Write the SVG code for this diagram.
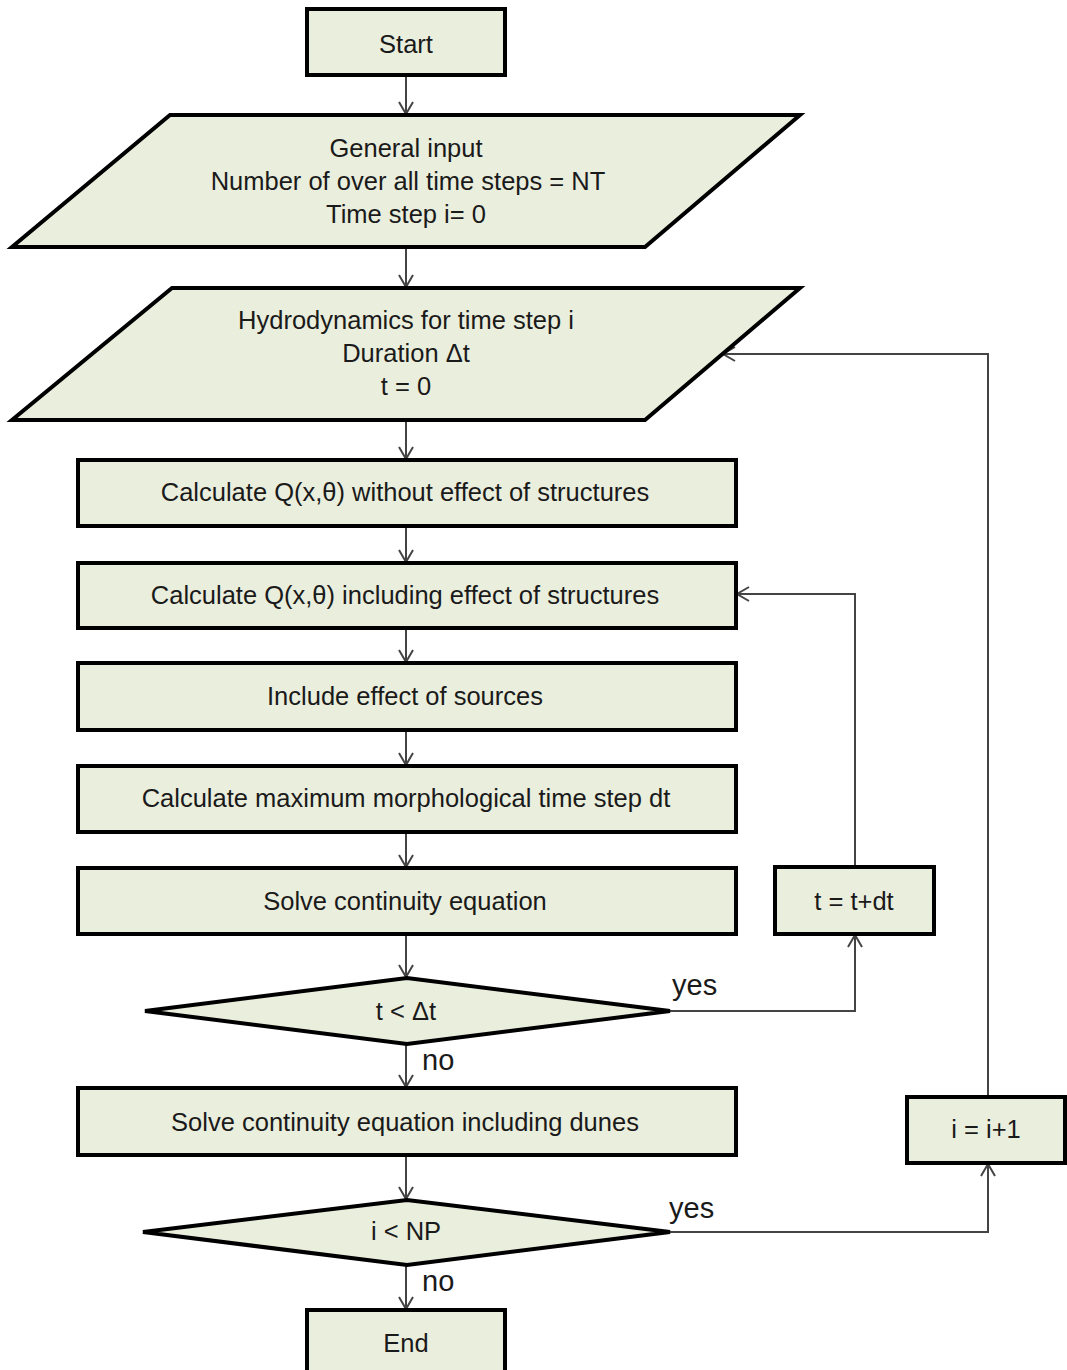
<svg xmlns="http://www.w3.org/2000/svg" width="1067" height="1370" viewBox="0 0 1067 1370">
<style>
.n{fill:#EAEEDD;stroke:#000;stroke-width:4;stroke-linejoin:miter}
.t{font-family:"Liberation Sans",Arial,sans-serif;font-size:25.5px;fill:#1a1a1a;text-anchor:middle}
.l{font-family:"Liberation Sans",Arial,sans-serif;font-size:29px;fill:#1a1a1a}
.c{fill:none;stroke:#444;stroke-width:2}
</style>
<defs>
<marker id="a" markerUnits="userSpaceOnUse" markerWidth="20" markerHeight="20" viewBox="-14 -10 16 20" refX="0" refY="0" orient="auto">
<path d="M-12,-7 L0,0 L-12,7" fill="none" stroke="#444" stroke-width="2"/>
</marker>
</defs>
<g id="connectors">
<path class="c" d="M406,75 V114" marker-end="url(#a)"/>
<path class="c" d="M406,247 V287" marker-end="url(#a)"/>
<path class="c" d="M406,420 V459" marker-end="url(#a)"/>
<path class="c" d="M406,526 V562" marker-end="url(#a)"/>
<path class="c" d="M406,628 V662" marker-end="url(#a)"/>
<path class="c" d="M406,730 V765" marker-end="url(#a)"/>
<path class="c" d="M406,832 V867" marker-end="url(#a)"/>
<path class="c" d="M406,934 V977" marker-end="url(#a)"/>
<path class="c" d="M406,1044 V1087" marker-end="url(#a)"/>
<path class="c" d="M406,1155 V1199" marker-end="url(#a)"/>
<path class="c" d="M406,1265 V1309" marker-end="url(#a)"/>
<path class="c" d="M670,1011 H855 V935" marker-end="url(#a)"/>
<path class="c" d="M855,867 V594 H737" marker-end="url(#a)"/>
<path class="c" d="M670,1232 H988 V1164" marker-end="url(#a)"/>
<path class="c" d="M988,1097 V354 H723" marker-end="url(#a)"/>
<text class="l" x="672" y="995">yes</text>
<text class="l" x="422" y="1070">no</text>
<text class="l" x="669" y="1218">yes</text>
<text class="l" x="422" y="1291">no</text>
</g>
<g id="start"><rect class="n" x="307" y="9" width="198" height="66"/><text class="t" x="406" y="53">Start</text></g>
<g id="input"><polygon class="n" points="170,115 800,115 645,247 12,247"/>
<text class="t" x="406" y="157">General input</text>
<text class="t" x="408" y="190">Number  of over all time steps = NT</text>
<text class="t" x="406" y="223">Time step i= 0</text></g>
<g id="hydro"><polygon class="n" points="172,288 800,288 645,420 12,420"/>
<text class="t" x="406" y="329">Hydrodynamics for time step i</text>
<text class="t" x="406" y="362">Duration  Δt</text>
<text class="t" x="406" y="395">t = 0</text></g>
<g id="calc1"><rect class="n" x="78" y="460" width="658" height="66"/><text class="t" x="405" y="501">Calculate Q(x,θ) without effect of structures</text></g>
<g id="calc2"><rect class="n" x="78" y="563" width="658" height="65"/><text class="t" x="405" y="604">Calculate Q(x,θ) including effect of structures</text></g>
<g id="sources"><rect class="n" x="78" y="663" width="658" height="67"/><text class="t" x="405" y="705">Include effect of sources</text></g>
<g id="maxdt"><rect class="n" x="78" y="766" width="658" height="66"/><text class="t" x="406" y="807">Calculate maximum  morphological time step dt</text></g>
<g id="solve"><rect class="n" x="78" y="868" width="658" height="66"/><text class="t" x="405" y="910">Solve continuity equation</text></g>
<g id="tinc"><rect class="n" x="775" y="867" width="159" height="67"/><text class="t" x="854" y="910">t = t+dt</text></g>
<g id="dec1"><polygon class="n" points="145,1011 407,978 670,1011 407,1044"/><text class="t" x="406" y="1020">t &lt; Δt</text></g>
<g id="dunes"><rect class="n" x="78" y="1088" width="658" height="67"/><text class="t" x="405" y="1131">Solve continuity equation including dunes</text></g>
<g id="iinc"><rect class="n" x="907" y="1097" width="158" height="66"/><text class="t" x="986" y="1138">i = i+1</text></g>
<g id="dec2"><polygon class="n" points="143,1232 407,1200 670,1232 407,1265"/><text class="t" x="406" y="1240">i &lt; NP</text></g>
<g id="end"><rect class="n" x="307" y="1310" width="198" height="70"/><text class="t" x="406" y="1352">End</text></g>
</svg>
